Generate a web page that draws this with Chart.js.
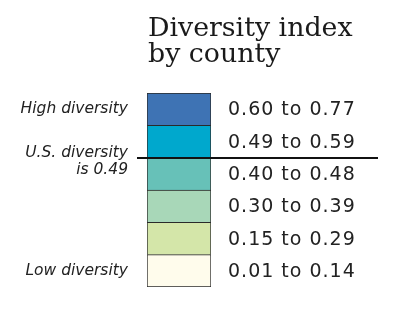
<!DOCTYPE html>
<html>
<head>
<meta charset="utf-8">
<script src="https://cdn.jsdelivr.net/npm/chart.js@4"></script>
<style>
  body { margin: 0; background: #fff; }
  #legend-chart { display: block; }
</style>
</head>
<body>
<canvas id="legend-chart" width="414" height="328"></canvas>
<script>
// index ranges, top (high) to bottom (low)
const titleLines = ['Diversity index', 'by county'];
const rangeLabels = ['0.60 to 0.77', '0.49 to 0.59', '0.40 to 0.48', '0.30 to 0.39', '0.15 to 0.29', '0.01 to 0.14'];
const lowerBounds = [0.60, 0.49, 0.40, 0.30, 0.15, 0.01];
const boxValues = [1, 1, 1, 1, 1, 1];
const boxColors = ['#3e73b4', '#00a8cd', '#67c1b8', '#a8d7b8', '#d4e6a9', '#fffcec'];
const highLabel = 'High diversity';
const lowLabel = 'Low diversity';
const usLabel = ['U.S. diversity', 'is 0.49'];
const usDiversity = 0.49;

(function() {
  const sideText = {
    id: 'sideText',
    afterDraw(chart) {
      const ctx = chart.ctx;
      const area = chart.chartArea;
      const y = chart.scales.y;
      const last = rangeLabels.length - 1;

      ctx.save();
      ctx.textBaseline = 'alphabetic';

      // title, left edge lined up with the boxes
      ctx.fillStyle = '#1a1a1a';
      ctx.font = '26.8px "DejaVu Serif"';
      ctx.textAlign = 'left';
      titleLines.forEach(function(t, i) {
        ctx.fillText(t, area.left + 1, 36 + i * 26);
      });

      ctx.fillStyle = '#222';
      // range labels to the right of the boxes
      ctx.font = '19px "DejaVu Sans"';
      ctx.letterSpacing = '1px';
      rangeLabels.forEach(function(t, i) {
        ctx.fillText(t, area.right + 17, y.getPixelForValue(i) + 6);
      });

      // italic notes on the left
      ctx.letterSpacing = '0px';
      ctx.font = 'italic 15.5px "DejaVu Sans"';
      ctx.textAlign = 'right';
      const xr = area.left - 19;
      ctx.fillText(highLabel, xr, y.getPixelForValue(0) + 4);
      ctx.fillText(lowLabel, xr, y.getPixelForValue(last) + 4);

      // U.S. average line sits under the box whose lower bound is 0.49
      const idx = lowerBounds.indexOf(usDiversity);
      const yLine = Math.round(y.getPixelForValue(idx + 0.5));
      ctx.fillText(usLabel[0], xr, yLine - 1);
      ctx.fillText(usLabel[1], xr, yLine + 16);

      ctx.strokeStyle = '#111';
      ctx.lineWidth = 2;
      ctx.beginPath();
      ctx.moveTo(area.left - 10, yLine);
      ctx.lineTo(area.right + 167, yLine);
      ctx.stroke();
      ctx.restore();
    }
  };

  const el = document.getElementById('legend-chart').getContext('2d');
  new Chart(el, {
    type: 'bar',
    data: {
      labels: rangeLabels,
      datasets: [
        {
          data: boxValues,
          backgroundColor: boxColors,
          borderColor: '#2a2a2a',
          borderWidth: function(c) {
            return { top: 1, left: 1, right: 1, bottom: c.dataIndex === rangeLabels.length - 1 ? 1 : 0 };
          },
          borderSkipped: false,
          barPercentage: 1,
          categoryPercentage: 1
        }
      ]
    },
    options: {
      indexAxis: 'y',
      responsive: false,
      animation: false,
      layout: { padding: { left: 147, right: 203, top: 93, bottom: 41 } },
      scales: {
        x: { display: false, min: 0, max: 1 },
        y: { display: false }
      },
      plugins: {
        legend: { display: false },
        tooltip: { enabled: false },
        title: { display: false }
      }
    },
    plugins: [sideText]
  });
})();
</script>
</body>
</html>
